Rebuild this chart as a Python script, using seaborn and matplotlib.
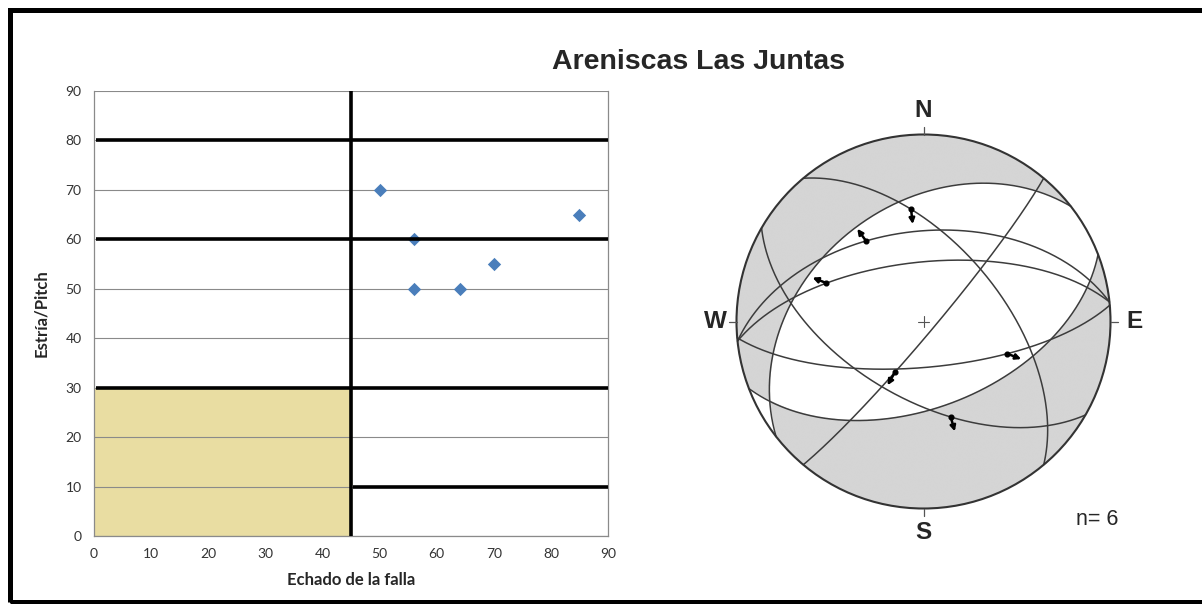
import numpy as np
import pandas as pd
import matplotlib
matplotlib.use("Agg")
import matplotlib.pyplot as plt
import seaborn as sns
from matplotlib.colors import ListedColormap
from matplotlib.patches import Circle, Rectangle

# Fault data: dip (echado) and pitch of the striae
echado = [50, 56, 56, 64, 70, 85]
pitch = [70, 60, 50, 50, 55, 65]

# Same faults on the net: strike (right hand rule), end the pitch is measured from, sense
strike = [264, 120, 320, 264, 85, 40]
pitch_from = [264, 120, 320, 264, 85, 220]
sense = [1, 1, -1, 1, 1, 1]   # 1 = arrow away from centre, -1 = towards centre

# Nodal planes of the solution (strike, dip)
np_strike = [232, 69]
np_dip = [38, 52]

# Classification limits drawn on the dip / pitch chart
lim_y = [80, 60, 30, 10]
lim_x_start = [0, 0, 0, 45]
lim_x = 45
field_w, field_h = 45, 30

sns.set_style("white")
plt.rcParams["font.family"] = ["Liberation Sans", "DejaVu Sans"]

fig = plt.figure(figsize=(12.02, 6.04), dpi=100)
W, H = 1202, 604

## Dip / pitch chart
ax = fig.add_axes([94 / W, 1 - 536 / H, 514 / W, 445 / H])
df = pd.DataFrame({"Echado": echado, "Pitch": pitch})
ax.add_patch(Rectangle((0, 0), field_w, field_h, color="#E9DDA2", zorder=0))
sns.scatterplot(data=df, x="Echado", y="Pitch", marker="D", s=46, color="#4A7EBB",
                edgecolor="#4A7EBB", linewidth=0, zorder=3, ax=ax)
for yv, x0 in zip(lim_y, lim_x_start):
    ax.hlines(yv, x0 + 0.4, 90, color="black", lw=2.6, zorder=4)
ax.vlines(lim_x, 0, 90, color="black", lw=2.6, zorder=4)

ax.set_xlim(0, 90)
ax.set_ylim(0, 90)
ax.set_xticks(range(0, 91, 10))
ax.set_yticks(range(0, 91, 10))
ax.yaxis.grid(True, color="#8a8a8a", lw=0.8)
ax.set_axisbelow(True)
for side in ["left", "bottom", "right"]:
    ax.spines[side].set_color("#8a8a8a")
    ax.spines[side].set_linewidth(0.9)
ax.spines["top"].set_visible(False)
ax.tick_params(axis="both", direction="out", length=4, width=0.8, color="#8a8a8a",
               labelsize=10, labelcolor="#333333", pad=5)
for lab in ax.get_xticklabels() + ax.get_yticklabels():
    lab.set_family(["Lato", "DejaVu Sans"])
ax.set_xlabel("Echado de la falla", fontsize=12, fontweight="bold", family=["Lato", "DejaVu Sans"])
ax.set_ylabel("Estría/Pitch", fontsize=12, fontweight="bold", family=["Lato", "DejaVu Sans"])
ax.xaxis.set_label_coords(0.5, -0.099)
ax.xaxis.label.set_va("center")
ax.yaxis.set_label_coords(-0.103, 0.5)
ax.yaxis.label.set_va("center")

## Stereonet (equal area, lower hemisphere)
cx, cy, R = 923.5, 321.5, 187.0
half = 243.0
sax = fig.add_axes([(cx - half) / W, 1 - (cy + half) / H, 2 * half / W, 2 * half / H])
sax.set_xlim(-half / R, half / R)
sax.set_ylim(-half / R, half / R)
sax.axis("off")


def plane_vecs(s, d):
    s, d = np.radians(s), np.radians(d)
    sv = np.array([np.cos(s), np.sin(s), 0.0])
    dv = np.array([np.cos(d) * np.cos(s + np.pi / 2), np.cos(d) * np.sin(s + np.pi / 2), np.sin(d)])
    return sv, dv


def project(n, e, d):
    plunge = np.arcsin(np.clip(d, -1, 1))
    trend = np.arctan2(e, n)
    r = np.sqrt(2) * np.sin((np.pi / 2 - plunge) / 2)
    return r * np.sin(trend), r * np.cos(trend)


def great_circle(s, d):
    sv, dv = plane_vecs(s, d)
    a = np.linspace(0, np.pi, 300)[:, None]
    v = np.cos(a) * sv + np.sin(a) * dv
    return project(v[:, 0], v[:, 1], v[:, 2])


# shading of the quadrants from the nodal planes
g = np.linspace(-1, 1, 900)
X, Y = np.meshgrid(g, g)
Rr = np.clip(np.hypot(X, Y), 0, 1)
pl = np.pi / 2 - 2 * np.arcsin(Rr / np.sqrt(2))
tr = np.arctan2(X, Y)
V = np.stack([np.cos(pl) * np.cos(tr), np.cos(pl) * np.sin(tr), np.sin(pl)], axis=-1)
prod = np.ones_like(X)
ref = 1.0
for s, d in zip(np_strike, np_dip):
    sv, dv = plane_vecs(s, d)
    nrm = np.cross(sv, dv)
    prod = prod * (V @ nrm)
    ref = ref * nrm[2]
gray = (prod * ref < 0).astype(float)
circ = Circle((0, 0), 1, transform=sax.transData)
im = sax.imshow(gray, extent=[-1, 1, -1, 1], origin="lower",
                cmap=ListedColormap(["white", "#d5d5d5"]), vmin=0, vmax=1, zorder=1)
im.set_clip_path(circ)

for s, d in zip(np_strike, np_dip):
    x, y = great_circle(s, d)
    sax.plot(x, y, color="#3c3c3c", lw=1.1, zorder=3)
for s, d in zip(strike, echado):
    x, y = great_circle(s, d)
    sax.plot(x, y, color="#3c3c3c", lw=1.1, zorder=3)

# striae with slip arrows
for s, d, p, e, sg in zip(strike, echado, pitch, pitch_from, sense):
    _, dv = plane_vecs(s, d)
    ev = np.array([np.cos(np.radians(e)), np.sin(np.radians(e)), 0.0])
    pr = np.radians(p)
    v = np.cos(pr) * ev + np.sin(pr) * dv
    x, y = project(*v)
    u = np.array([x, y]) / np.hypot(x, y)
    end = np.array([x, y]) + sg * 0.08 * u
    sax.plot(x, y, "o", ms=3.4, color="black", zorder=5)
    sax.annotate("", xy=end, xytext=(x, y),
                 arrowprops=dict(arrowstyle="-|>", color="black", lw=1.8,
                                 mutation_scale=8, shrinkA=0, shrinkB=0), zorder=5)

sax.add_patch(Circle((0, 0), 1, fill=False, ec="#333333", lw=1.5, zorder=4))
sax.plot([-0.03, 0.03], [0, 0], color="#555555", lw=0.8, zorder=4)
sax.plot([0, 0], [-0.03, 0.03], color="#555555", lw=0.8, zorder=4)
for dx, dy in [(0, 1), (0, -1), (1, 0), (-1, 0)]:
    sax.plot([dx, dx * 1.04], [dy, dy * 1.04], color="#555555", lw=0.9, zorder=4)

sax.text(0, 1.13, "N", ha="center", va="center", fontsize=17.5, fontweight="bold")
sax.text(0, -1.13, "S", ha="center", va="center", fontsize=17.5, fontweight="bold")
sax.text(-1.115, 0, "W", ha="center", va="center", fontsize=17.5, fontweight="bold")
sax.text(1.13, 0, "E", ha="center", va="center", fontsize=17.5, fontweight="bold")
sax.text(0.93, -1.06, "n= 6", ha="center", va="center", fontsize=15.5)

fig.text(699 / W, 1 - 62 / H, "Areniscas Las Juntas", ha="center", va="center",
         fontsize=20.5, fontweight="bold")

fig.add_artist(Rectangle((10 / W, (H - 601.5) / H), 1.2, 592 / H, transform=fig.transFigure,
                         fill=False, ec="black", lw=3.6, clip_on=False))

plt.savefig("out.png", dpi=100)
